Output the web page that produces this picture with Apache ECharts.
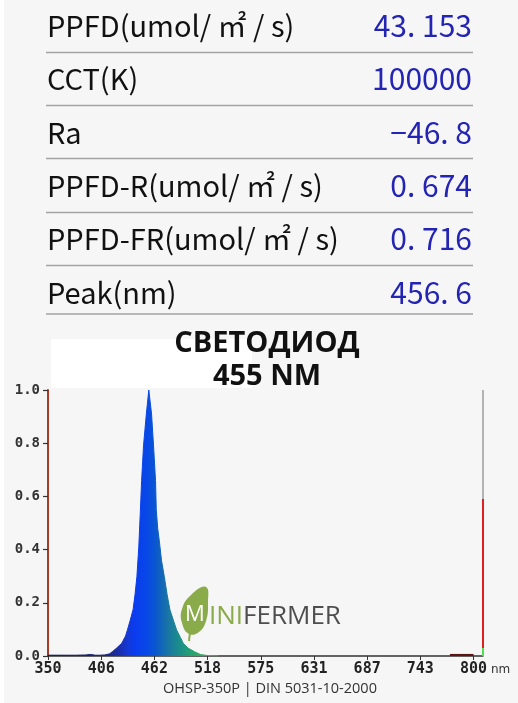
<!DOCTYPE html>
<html><head><meta charset="utf-8">
<script src="https://cdn.jsdelivr.net/npm/echarts@6/dist/echarts.min.js"></script>
<style>html,body{margin:0;padding:0;background:#f6f6f6;}#c{width:518px;height:703px;}</style>
</head><body><div id="c"></div>
<script>
// ---------- data ----------
const rowLabels = ['PPFD(umol/ ㎡ / s)', 'CCT(K)', 'Ra', 'PPFD-R(umol/ ㎡ / s)', 'PPFD-FR(umol/ ㎡ / s)', 'Peak(nm)'];
const rowValues = ['43. 153', '100000', '−46. 8', '0. 674', '0. 716', '456. 6'];
const titleLines = ['СВЕТОДИОД', '455 NM'];
const xTickValues = [350, 406.25, 462.5, 518.75, 575, 631.25, 687.5, 743.75, 800];
const xTickLabels = ['350', '406', '462', '518', '575', '631', '687', '743', '800'];
const xUnit = 'nm';
const specNm  = [350, 360, 370, 380, 390, 395, 400, 405, 410, 415, 418, 422, 428, 432, 434, 437, 440, 442, 444, 446, 447.5, 449, 451, 454, 456.6, 459.5, 461.6, 463.7, 464.5, 466, 468, 470, 473, 476, 479, 483, 486, 490, 493, 498, 505, 511, 518, 525, 530];
const specVal = [0.003, 0.003, 0.003, 0.003, 0.004, 0.006, 0.003, 0.003, 0.004, 0.008, 0.016, 0.028, 0.048, 0.075, 0.098, 0.135, 0.175, 0.23, 0.298, 0.41, 0.53, 0.66, 0.79, 0.91, 1.0, 0.91, 0.79, 0.66, 0.55, 0.48, 0.424, 0.36, 0.298, 0.23, 0.173, 0.13, 0.098, 0.07, 0.048, 0.03, 0.016, 0.006, 0.002, 0.001, 0];
const tailNm = [775, 800];
const tailVal = [0.004, 0.004];
const indicatorNm = 810;
const indicatorGray = [1.0, 0.59];
const indicatorRed = [0.59, 0.03];
const indicatorGreen = [0.03, 0];
const footerText = 'OHSP-350P | DIN 5031-10-2000';
const logoLeaf = 'M', logoGreenPart = 'INI', logoGrayPart = 'FERMER';

// ---------- styling ----------
const specStopsNm = [350, 410, 425, 435, 442, 455, 463, 470, 478, 488, 500, 515, 530];
const specStopsColor = ['#161a58', '#1a2478', '#1c2eaa', '#1438d8', '#0a3cf0', '#0848e6', '#0a56d0', '#1266b8', '#1a78a2', '#1a8c8c', '#24a074', '#3aae5a', '#4cb44c'];
const nm0 = specNm[0], nm1 = specNm[specNm.length - 1];
function specGradient() {
  return new echarts.graphic.LinearGradient(0, 0, 1, 0,
    specStopsNm.map((n, i) => ({ offset: (n - nm0) / (nm1 - nm0), color: specStopsColor[i] })));
}

const graphics = [];
graphics.push({ type: 'rect', shape: { x: 0, y: 0, width: 4, height: 703 }, style: { fill: '#ffffff' }, z: 0 });
const rowCenter = [26, 79, 133, 186, 239, 292.5];
const rowLine = [52.5, 105.5, 158.5, 212.5, 265.5, 314];
rowLabels.forEach((lab, i) => {
  graphics.push({ type: 'text', x: 47, y: rowCenter[i], z: 10,
    style: { text: lab, fill: '#111', font: '29px "Noto Sans CJK SC"', textAlign: 'left', textVerticalAlign: 'middle' } });
  graphics.push({ type: 'text', x: 472, y: rowCenter[i], z: 10,
    style: { text: rowValues[i], fill: '#2323b4', font: '30px "Noto Sans CJK SC"', textAlign: 'right', textVerticalAlign: 'middle' } });
  graphics.push({ type: 'line', z: 10, shape: { x1: 46, y1: rowLine[i], x2: 473, y2: rowLine[i] }, style: { stroke: '#a3a3a3', lineWidth: 1.5 } });
});
// white patch behind title
graphics.push({ type: 'rect', z: 0, shape: { x: 51, y: 339, width: 201, height: 49 }, style: { fill: '#ffffff' } });
// logo
graphics.push({ type: 'polygon', z: 10, x: 181, y: 587,
  shape: { points: [[25, 0], [10, 8], [1, 22], [1, 36], [8, 47], [18, 45], [25, 34], [27, 16]], smooth: 0.45 },
  style: { fill: '#8aab4a' } });
graphics.push({ type: 'line', z: 10, shape: { x1: 190, y1: 632, x2: 189, y2: 641 }, style: { stroke: '#8aab4a', lineWidth: 2 } });
graphics.push({ type: 'text', z: 11, x: 195, y: 615,
  style: { text: logoLeaf, fill: '#ffffff', font: '22px "Open Sans"', textAlign: 'center', textVerticalAlign: 'middle' } });
graphics.push({ type: 'text', z: 11, x: 209, y: 617,
  style: { text: '{g|' + logoGreenPart + '}{d|' + logoGrayPart + '}', textVerticalAlign: 'middle',
    rich: { g: { fill: '#8aab4a', font: '26px "Open Sans"' }, d: { fill: '#4e4e4e', font: '26px "Open Sans"' } } } });
// footer
graphics.push({ type: 'text', z: 10, x: 270, y: 689,
  style: { text: footerText, fill: '#333', font: '14.5px "Open Sans"', textAlign: 'center', textVerticalAlign: 'middle' } });

const chart = echarts.init(document.getElementById('c'), null, { renderer: 'canvas' });
chart.setOption({
  backgroundColor: '#f6f6f6',
  animation: false,
  title: {
    text: titleLines.join('\n'), left: 262, top: 322, textAlign: 'center',
    textStyle: { fontFamily: '"Open Sans"', fontWeight: 'bold', fontSize: 29, lineHeight: 33, color: '#111' }
  },
  graphic: graphics,
  grid: { left: 48, top: 390, width: 435, height: 266, containLabel: false },
  xAxis: {
    type: 'value', min: 350, max: 810,
    name: xUnit, nameLocation: 'end', nameGap: 1,
    nameTextStyle: { fontFamily: '"DejaVu Sans"', fontSize: 12, color: '#333', verticalAlign: 'top', padding: [8, 0, 0, 0] },
    axisLine: { lineStyle: { color: '#333', width: 1.5 } },
    axisTick: { show: true, length: 4, lineStyle: { color: '#333' }, customValues: xTickValues },
    axisLabel: { customValues: xTickValues, margin: 6, color: '#222', fontFamily: '"DejaVu Sans Mono"', fontWeight: 'bold', fontSize: 15,
      formatter: v => { const i = xTickValues.indexOf(v); return i >= 0 ? xTickLabels[i] : ''; } },
    splitLine: { show: false }
  },
  yAxis: {
    type: 'value', min: 0, max: 1, interval: 0.2,
    axisLine: { show: true, lineStyle: { color: '#a83a26', width: 2 } },
    axisTick: { show: true, length: 5, lineStyle: { color: '#333', width: 1.2 } },
    axisLabel: { margin: 8, color: '#333', fontFamily: '"DejaVu Sans Mono"', fontWeight: 'bold', fontSize: 14, formatter: v => v.toFixed(1) },
    splitLine: { show: false }
  },
  series: [
    { type: 'line', data: specNm.map((n, i) => [n, specVal[i]]), symbol: 'none', z: 3,
      lineStyle: { width: 1, color: specGradient() }, areaStyle: { color: specGradient(), opacity: 1 } },
    { type: 'line', data: tailNm.map((n, i) => [n, tailVal[i]]), symbol: 'none', z: 3, lineStyle: { width: 2, color: '#5a1212' } },
    { type: 'line', clip: false, data: indicatorGray.map(v => [indicatorNm, v]), symbol: 'none', z: 4, lineStyle: { width: 2, color: '#b4b4b4' } },
    { type: 'line', clip: false, data: indicatorRed.map(v => [indicatorNm, v]), symbol: 'none', z: 4, lineStyle: { width: 2, color: '#e02020' } },
    { type: 'line', clip: false, data: indicatorGreen.map(v => [indicatorNm, v]), symbol: 'none', z: 4, lineStyle: { width: 2, color: '#52e052' } }
  ]
});
</script></body></html>
